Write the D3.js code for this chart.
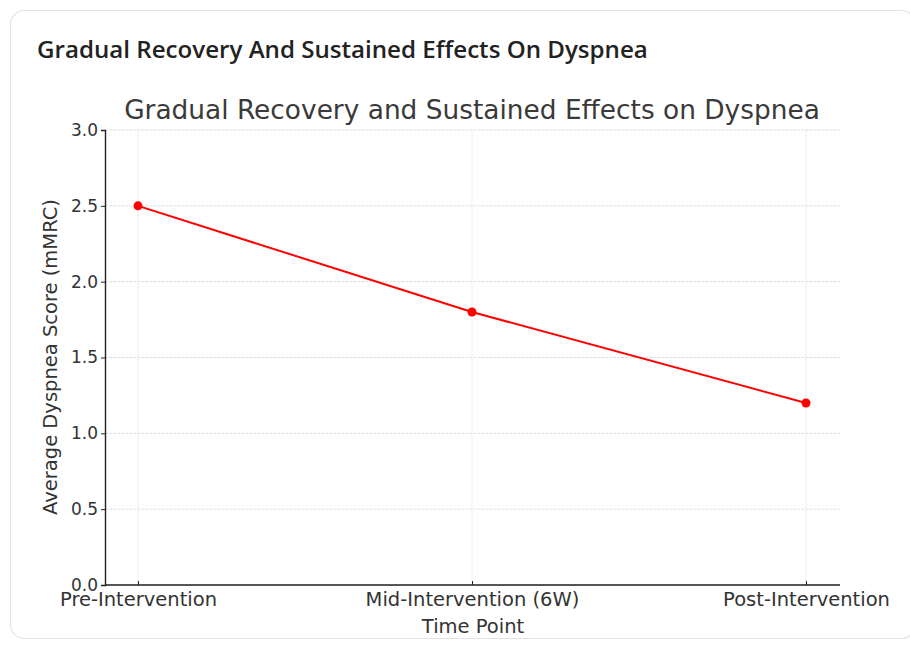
<!DOCTYPE html>
<html><head><meta charset="utf-8">
<script src="https://cdn.jsdelivr.net/npm/d3@7"></script>
<style>body{margin:0;background:#fff;}svg{display:block;}</style>
</head><body>
<script>
const categories = ["Pre-Intervention", "Mid-Intervention (6W)", "Post-Intervention"];
const values = [2.5, 1.8, 1.2];
const yTicks = [0.0, 0.5, 1.0, 1.5, 2.0, 2.5, 3.0];
const headerText = "Gradual Recovery And Sustained Effects On Dyspnea";
const titleText = "Gradual Recovery and Sustained Effects on Dyspnea";
const xLabel = "Time Point";
const yLabel = "Average Dyspnea Score (mMRC)";

const W = 910, H = 646;
const svg = d3.select("body").append("svg").attr("width", W).attr("height", H);

svg.append("rect").attr("x", 10.5).attr("y", 10.5).attr("width", 905).attr("height", 628)
  .attr("rx", 14).attr("fill", "#fff").attr("stroke", "#e3e3e3").attr("stroke-width", 1.2);

function fit(sel, target) {
  const w = sel.node().getComputedTextLength();
  const fs = parseFloat(sel.attr("font-size"));
  sel.attr("font-size", fs * target / w);
}

const header = svg.append("text").attr("x", 37).attr("y", 58)
  .attr("font-family", "'Open Sans', sans-serif").attr("font-weight", 600)
  .attr("font-size", 20).attr("fill", "#222").text(headerText);
fit(header, 611);

const m = {left: 105, right: 840, top: 130, bottom: 585};
const x = d3.scalePoint().domain(categories).range([138, 806]);
const y = d3.scaleLinear().domain([0, 3]).range([m.bottom, m.top]);

const title = svg.append("text").attr("x", 472).attr("y", 119).attr("text-anchor", "middle")
  .attr("font-family", "'DejaVu Sans', sans-serif").attr("font-size", 24).attr("fill", "#3a3a3a")
  .text(titleText);
fit(title, 696);

// grid
svg.append("g").selectAll("line").data(yTicks).join("line")
  .attr("x1", m.left).attr("x2", m.right).attr("y1", d => y(d)).attr("y2", d => y(d))
  .attr("stroke", "#d9d9d9").attr("stroke-width", 0.8).attr("stroke-dasharray", "3,1");
svg.append("g").selectAll("line").data(categories).join("line")
  .attr("x1", d => x(d)).attr("x2", d => x(d)).attr("y1", m.top).attr("y2", m.bottom)
  .attr("stroke", "#e2e2e2").attr("stroke-width", 0.8).attr("stroke-dasharray", "3,1");

// axes
const yAxis = svg.append("g").attr("transform", `translate(${m.left},0)`)
  .call(d3.axisLeft(y).tickValues(yTicks).tickFormat(d3.format(".1f")).tickSize(4).tickPadding(3));
const xAxis = svg.append("g").attr("transform", `translate(0,${m.bottom})`)
  .call(d3.axisBottom(x).tickSize(4).tickPadding(3));
xAxis.select(".domain").attr("d", `M${m.left},0H${m.right}`);
[yAxis, xAxis].forEach(a => {
  a.select(".domain").attr("stroke", "#222").attr("stroke-width", 1.4);
  a.selectAll(".tick line").attr("stroke", "#222");
  a.selectAll("text").attr("font-family", "'DejaVu Sans', sans-serif").attr("fill", "#333");
});
yAxis.selectAll("text").attr("font-size", 17);
xAxis.selectAll("text").attr("font-size", 19.5);
xAxis.selectAll(".tick line").attr("y1", -4).attr("y2", 0);

svg.append("text").attr("x", 473).attr("y", 633).attr("text-anchor", "middle")
  .attr("font-family", "'DejaVu Sans', sans-serif").attr("font-size", 19.5).attr("fill", "#333").text(xLabel);
svg.append("text").attr("transform", "translate(57,357) rotate(-90)").attr("text-anchor", "middle")
  .attr("font-family", "'DejaVu Sans', sans-serif").attr("font-size", 19.5).attr("fill", "#333").text(yLabel);

// line
svg.append("path").datum(values.map((v, i) => [categories[i], v]))
  .attr("d", d3.line().x(d => x(d[0])).y(d => y(d[1])))
  .attr("fill", "none").attr("stroke", "#ff0000").attr("stroke-width", 2);
svg.append("g").selectAll("circle").data(values).join("circle")
  .attr("cx", (d, i) => x(categories[i])).attr("cy", d => y(d)).attr("r", 4.5).attr("fill", "#ff0000");
</script>
</body></html>
